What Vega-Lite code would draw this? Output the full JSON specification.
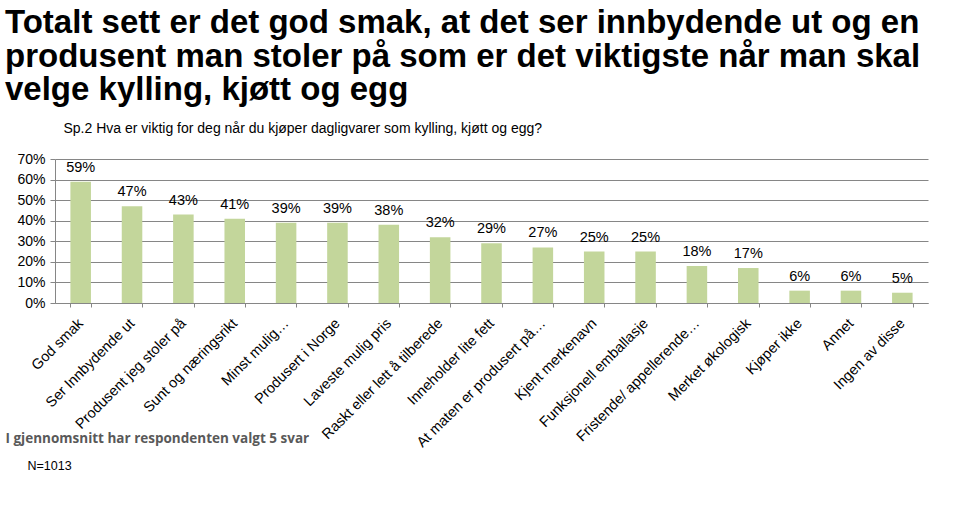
{
  "$schema": "https://vega.github.io/schema/vega-lite/v6.json",
  "width": 873,
  "height": 144,
  "autosize": {"type": "none"},
  "padding": {"left": 55, "top": 159, "right": 32, "bottom": 221},
  "background": "white",
  "title": {
    "text": ["Totalt sett er det god smak, at det ser innbydende ut og en", "produsent man stoler på som er det viktigste når man skal", "velge kylling, kjøtt og egg"],
    "anchor": "start",
    "frame": "group",
    "font": "Liberation Sans",
    "fontSize": 33,
    "fontWeight": "bold",
    "color": "#000000",
    "lineHeight": 33.5,
    "dx": -50,
    "offset": 14
  },
  "data": {
    "values": [
      {"kategori": "God smak", "andel": 0.59},
      {"kategori": "Ser Innbydende ut", "andel": 0.47},
      {"kategori": "Produsent jeg stoler på", "andel": 0.43},
      {"kategori": "Sunt og næringsrikt", "andel": 0.41},
      {"kategori": "Minst mulig…", "andel": 0.39},
      {"kategori": "Produsert i Norge", "andel": 0.39},
      {"kategori": "Laveste mulig pris", "andel": 0.38},
      {"kategori": "Raskt eller lett å tilberede", "andel": 0.32},
      {"kategori": "Inneholder lite fett", "andel": 0.29},
      {"kategori": "At maten er produsert på…", "andel": 0.27},
      {"kategori": "Kjent merkenavn", "andel": 0.25},
      {"kategori": "Funksjonell emballasje", "andel": 0.25},
      {"kategori": "Fristende/ appellerende…", "andel": 0.18},
      {"kategori": "Merket økologisk", "andel": 0.17},
      {"kategori": "Kjøper ikke", "andel": 0.06},
      {"kategori": "Annet", "andel": 0.06},
      {"kategori": "Ingen av disse", "andel": 0.05}
    ]
  },
  "config": {
    "view": {"stroke": null},
    "font": "Liberation Sans"
  },
  "layer": [
    {
      "mark": {"type": "bar", "color": "#c3d69b"},
      "encoding": {
        "x": {
          "field": "kategori", "type": "nominal", "sort": null,
          "scale": {"paddingInner": 0.6, "paddingOuter": 0.3},
          "axis": {
            "orient": "bottom",
            "labelAngle": -45,
            "labelAlign": "right",
            "labelBaseline": "middle",
            "labelFontSize": 14.5,
            "labelColor": "#000000",
            "labelFont": "Liberation Sans",
            "labelPadding": 14,
            "labelLimit": 300,
            "tickBand": "extent",
            "tickColor": "#868686",
            "tickSize": 4,
            "domainColor": "#868686",
            "title": "I gjennomsnitt har respondenten valgt 5 svar",
            "titleFont": "Open Sans",
            "titleFontSize": 13.5,
            "titleFontWeight": "bold",
            "titleColor": "#595959",
            "titleAngle": 0,
            "titleAlign": "left",
            "titleBaseline": "middle",
            "titleX": -50,
            "titleY": 135
          }
        },
        "y": {
          "field": "andel", "type": "quantitative",
          "scale": {"domain": [0, 0.7], "nice": false},
          "axis": {
            "values": [0, 0.1, 0.2, 0.3, 0.4, 0.5, 0.6, 0.7],
            "format": ".0%",
            "labelFontSize": 14,
            "labelColor": "#000000",
            "labelPadding": 5,
            "tickColor": "#868686",
            "tickSize": 5,
            "domainColor": "#868686",
            "gridColor": "#868686",
            "grid": true,
            "title": "N=1013",
            "titleFontSize": 12.5,
            "titleFontWeight": "normal",
            "titleColor": "#000000",
            "titleAngle": 0,
            "titleAlign": "left",
            "titleBaseline": "middle",
            "titleX": -28,
            "titleY": 306
          }
        }
      }
    },
    {
      "mark": {"type": "text", "dy": -7, "baseline": "bottom", "fontSize": 14.5, "color": "#000000"},
      "encoding": {
        "x": {
          "field": "kategori", "type": "nominal", "sort": null,
          "axis": {
            "orient": "top",
            "labels": false,
            "ticks": false,
            "domain": false,
            "grid": false,
            "title": "Sp.2 Hva er viktig for deg når du kjøper dagligvarer som kylling, kjøtt og egg?",
            "titleFontSize": 14,
            "titleFontWeight": "normal",
            "titleColor": "#000000",
            "titleAngle": 0,
            "titleAlign": "left",
            "titleBaseline": "middle",
            "titleX": 8,
            "titleY": -31
          }
        },
        "y": {
          "field": "andel", "type": "quantitative",
          "axis": {
            "values": [0, 0.1, 0.2, 0.3, 0.4, 0.5, 0.6, 0.7],
            "format": ".0%",
            "labelFontSize": 14,
            "labelColor": "#000000",
            "labelPadding": 5,
            "tickColor": "#868686",
            "tickSize": 5,
            "domainColor": "#868686",
            "gridColor": "#868686",
            "grid": true,
            "title": "N=1013",
            "titleFontSize": 12.5,
            "titleFontWeight": "normal",
            "titleColor": "#000000",
            "titleAngle": 0,
            "titleAlign": "left",
            "titleBaseline": "middle",
            "titleX": -28,
            "titleY": 306
          }
        },
        "text": {"field": "andel", "type": "quantitative", "format": ".0%"}
      }
    }
  ]
}
